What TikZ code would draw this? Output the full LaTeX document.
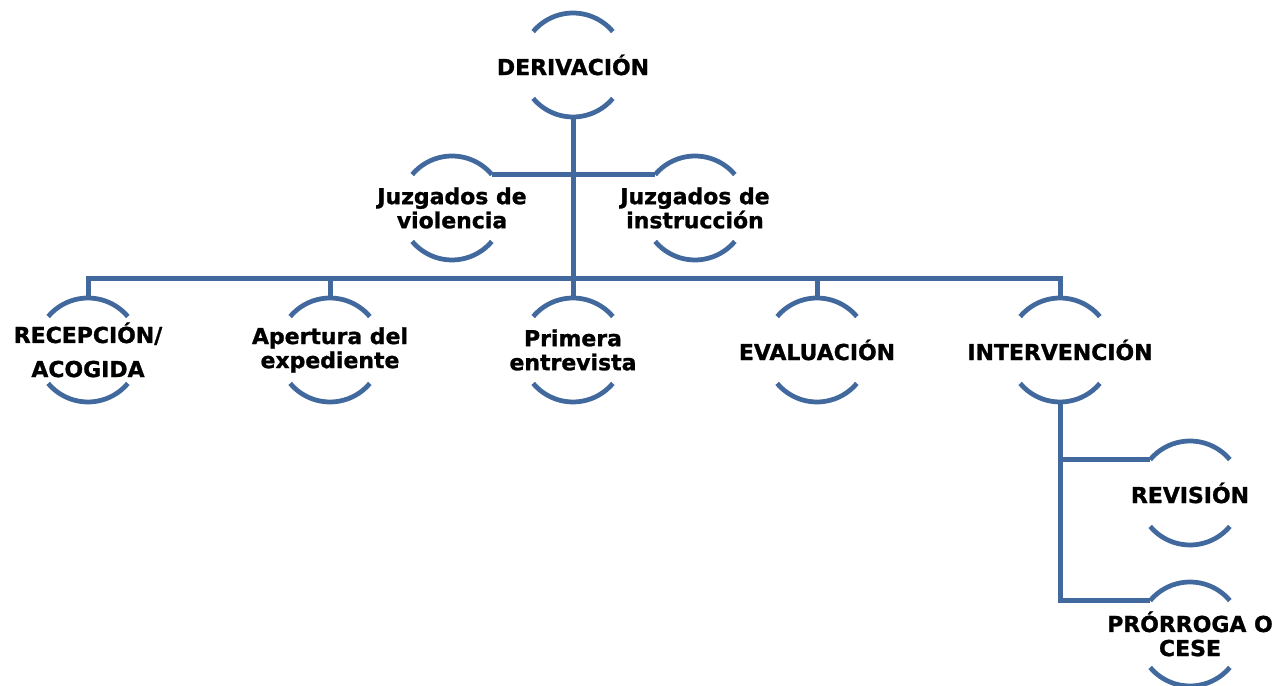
\documentclass[tikz,border=0pt]{standalone}
\usepackage{fontspec}
\setmainfont{DejaVu Sans}[BoldFeatures={FakeBold=1.2}]
\usepackage{tikz}
\usetikzlibrary{positioning}
\definecolor{flowblue}{RGB}{66,105,158}

\begin{document}
\begin{tikzpicture}[x=0.02cm, y=0.02cm,
  ring/.style={circle, minimum size=2.08cm, inner sep=0pt, outer sep=0pt},
  arcline/.style={flowblue, line width=0.095cm},
  link/.style={flowblue, line width=0.1cm},
  lbl/.style={font=\fontsize{12.5}{13.7}\selectfont\bfseries, align=center, inner sep=0pt}]
% stage diagram — coordinates in pixels of the 1272 x 686 frame, y upwards
\useasboundingbox (0,0) rectangle (1272,686);
\def\R{1.04cm}   % ring radius

% Helper: open ring (top and bottom arc only) with centred text
\newcommand{\stagenode}[4]{% name, x, y, text
  \node[ring] (#1) at (#2,#3) {};
  \draw[arcline] (#1.40) arc[start angle=40, end angle=140, radius=\R];
  \draw[arcline] (#1.220) arc[start angle=220, end angle=320, radius=\R];
  \node[lbl] (#1-txt) at (#1) {#4};
}

% 1. Stages
\stagenode{der}{573}{621}{DERIVACIÓN}
\stagenode{jv}{452}{478}{Juzgados de\\violencia}
\stagenode{ji}{695}{478}{Juzgados de\\instrucción}
\stagenode{rec}{88}{336}{RECEPCIÓN/\\[0.2cm]ACOGIDA}
\stagenode{ape}{330}{336}{Apertura del\\expediente}
\stagenode{pri}{573}{336}{Primera\\entrevista}
\stagenode{eva}{817}{336}{EVALUACIÓN}
\stagenode{int}{1060}{336}{INTERVENCIÓN}
\stagenode{rev}{1190}{193}{REVISIÓN}
\stagenode{pro}{1190}{52}{PRÓRROGA O\\CESE}

% 2. Links
\coordinate (bus) at (573,407);
\draw[link] (der.south) -- (der.south |- bus);
\draw[link] (jv.40) -- (ji.140);
\draw[link] (rec.north) |- (der.south |- bus) -| (int.north);
\foreach \nm in {ape,pri,eva} {
  \draw[link] (\nm.north |- bus) -- (\nm.north);
}
\draw[link] (int.south) |- (pro.140);
\draw[link] (int.south |- rev.140) -- (rev.140);

\end{tikzpicture}
\end{document}
